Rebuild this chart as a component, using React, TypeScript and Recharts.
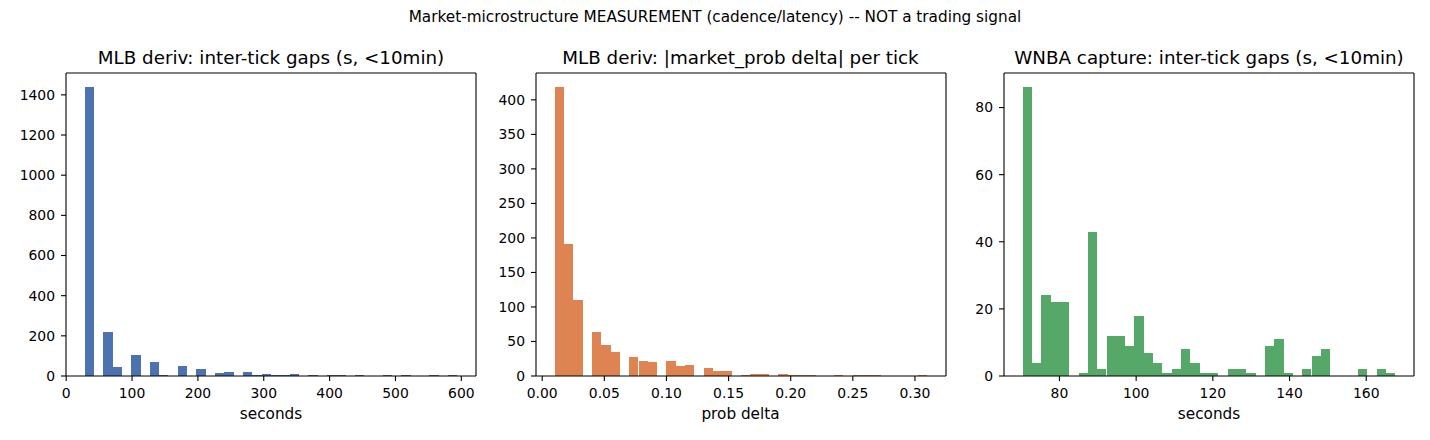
import React from 'react';
import { BarChart, Bar, XAxis, YAxis } from 'recharts';

const FONT = '"DejaVu Sans", "Liberation Sans", sans-serif';

// ---- data (histogram counts, 40 bins each) ----
const mlbGapBinStart = 28;
const mlbGapBinWidth = 14.15;
const mlbGapCounts = [
  1437, 0, 218, 45, 0, 104, 0, 70, 4, 0,
  50, 0, 35, 0, 14, 20, 0, 20, 4, 10,
  4, 4, 8, 0, 4, 0, 3, 3, 0, 3,
  0, 0, 3, 0, 3, 0, 0, 3, 0, 3,
];
const mlbGapXTicks = [0, 100, 200, 300, 400, 500, 600];
const mlbGapYTicks = [0, 200, 400, 600, 800, 1000, 1200, 1400];

const mlbDeltaBinStart = 0.01;
const mlbDeltaBinWidth = 0.0075;
const mlbDeltaCounts = [
  418, 191, 110, 0, 64, 45, 35, 0, 27, 22,
  20, 0, 22, 14, 16, 0, 12, 7, 7, 0,
  1, 3, 3, 0, 3, 1, 1, 1, 0, 0,
  1, 0, 1, 1, 1, 0, 0, 0, 0, 1,
];
const mlbDeltaXTicks = [0, 0.05, 0.1, 0.15, 0.2, 0.25, 0.3];
const mlbDeltaYTicks = [0, 50, 100, 150, 200, 250, 300, 350, 400];

const wnbaGapBinStart = 70.4;
const wnbaGapBinWidth = 2.43;
const wnbaGapCounts = [
  86, 4, 24, 22, 22, 0, 1, 43, 2, 12,
  12, 9, 18, 7, 4, 1, 2, 8, 4, 1,
  1, 0, 2, 2, 1, 0, 9, 11, 1, 0,
  2, 6, 8, 0, 0, 0, 2, 0, 2, 1,
];
const wnbaGapXTicks = [80, 100, 120, 140, 160];
const wnbaGapYTicks = [0, 20, 40, 60, 80];

const SUPTITLE = 'Market-microstructure MEASUREMENT (cadence/latency) -- NOT a trading signal';
const panelTitles = [
  'MLB deriv: inter-tick gaps (s, <10min)',
  'MLB deriv: |market_prob delta| per tick',
  'WNBA capture: inter-tick gaps (s, <10min)',
];
const panelXLabels = ['seconds', 'prob delta', 'seconds'];

// ---- layout ----
const PLOT_TOP = 73;
const PLOT_BOTTOM = 376;
const PLOT_W = 410;
const Y_AXIS_W = 60;
const X_AXIS_H = 30;
const CHART_H = 440;
const PAD_LEFT = 6;
const PAD_RIGHT = 14;
const FRAME_W = 1;
const plotLefts = [66, 535.5, 1004];

const tickStyle = { fill: '#000', fontSize: 13.9, fontFamily: FONT };
const axisLineStyle = { stroke: '#000', strokeWidth: 1.1 };
const tickLineStyle = { stroke: '#000', strokeWidth: 1.1 };

type PanelProps = {
  plotLeft: number;
  counts: number[];
  binStart: number;
  binWidth: number;
  color: string;
  xTicks: number[];
  yTicks: number[];
  fmt?: (v: number) => string;
};

function HistPanel({ plotLeft, counts, binStart, binWidth, color, xTicks, yTicks, fmt }: PanelProps) {
  const hi = binStart + counts.length * binWidth;
  const span = hi - binStart;
  const xMin = binStart - 0.05 * span;
  const xMax = hi + 0.05 * span;
  const yMax = Math.max(...counts) * 1.05;
  const data = counts.map((c, i) => ({ x: binStart + (i + 0.5) * binWidth, count: c }));
  const barSize = (PLOT_W * binWidth) / (xMax - xMin) - 0.01;
  const chartW = PAD_LEFT + Y_AXIS_W + PLOT_W + PAD_RIGHT;
  return (
    <div style={{ position: 'absolute', left: plotLeft - PAD_LEFT - Y_AXIS_W, top: 0 }}>
      <BarChart
        width={chartW}
        height={CHART_H}
        data={data}
        margin={{
          top: PLOT_TOP - FRAME_W,
          right: PAD_RIGHT - FRAME_W,
          bottom: CHART_H - PLOT_BOTTOM - X_AXIS_H,
          left: PAD_LEFT,
        }}
        barCategoryGap={0}
        barGap={0}
      >
        <XAxis
          xAxisId="b"
          dataKey="x"
          type="number"
          domain={[xMin, xMax]}
          allowDataOverflow
          ticks={xTicks}
          interval={0}
          tickFormatter={fmt}
          height={X_AXIS_H}
          tickSize={5}
          tickMargin={7}
          axisLine={axisLineStyle}
          tickLine={tickLineStyle}
          tick={tickStyle}
        />
        <XAxis
          xAxisId="t"
          orientation="top"
          dataKey="x"
          type="number"
          domain={[xMin, xMax]}
          allowDataOverflow
          height={FRAME_W}
          tick={false}
          tickLine={false}
          axisLine={axisLineStyle}
        />
        <YAxis
          yAxisId="l"
          type="number"
          domain={[0, yMax]}
          allowDataOverflow
          ticks={yTicks}
          interval={0}
          width={Y_AXIS_W}
          tickSize={5}
          tickMargin={6}
          axisLine={axisLineStyle}
          tickLine={tickLineStyle}
          tick={tickStyle}
        />
        <YAxis
          yAxisId="r"
          orientation="right"
          type="number"
          domain={[0, yMax]}
          allowDataOverflow
          width={FRAME_W}
          tick={false}
          tickLine={false}
          axisLine={axisLineStyle}
        />
        <Bar
          xAxisId="b"
          yAxisId="l"
          dataKey="count"
          fill={color}
          barSize={barSize}
          shapeRendering="crispEdges"
          isAnimationActive={false}
        />
      </BarChart>
    </div>
  );
}

export default function App() {
  const panels = [
    {
      counts: mlbGapCounts, binStart: mlbGapBinStart, binWidth: mlbGapBinWidth, color: '#4c72b0',
      xTicks: mlbGapXTicks, yTicks: mlbGapYTicks, fmt: (v: number) => String(v),
    },
    {
      counts: mlbDeltaCounts, binStart: mlbDeltaBinStart, binWidth: mlbDeltaBinWidth, color: '#dd8452',
      xTicks: mlbDeltaXTicks, yTicks: mlbDeltaYTicks, fmt: (v: number) => v.toFixed(2),
    },
    {
      counts: wnbaGapCounts, binStart: wnbaGapBinStart, binWidth: wnbaGapBinWidth, color: '#55a868',
      xTicks: wnbaGapXTicks, yTicks: wnbaGapYTicks, fmt: (v: number) => String(v),
    },
  ];
  return (
    <div
      style={{
        position: 'absolute', left: 0, top: 0, width: 1430, height: 440,
        background: '#fff', overflow: 'hidden', fontFamily: FONT,
      }}
    >
      {panels.map((p, i) => (
        <HistPanel key={i} plotLeft={plotLefts[i]} {...p} />
      ))}
      <svg
        width={1430}
        height={440}
        style={{ position: 'absolute', left: 0, top: 0, pointerEvents: 'none' }}
      >
        <text x={715} y={21.5} textAnchor="middle" fontFamily={FONT} fontSize={15.28} fill="#000">
          {SUPTITLE}
        </text>
        {panelTitles.map((t, i) => (
          <text
            key={'t' + i}
            x={plotLefts[i] + PLOT_W / 2}
            y={64.3}
            textAnchor="middle"
            fontFamily={FONT}
            fontSize={18.3}
            fill="#000"
          >
            {t}
          </text>
        ))}
        {panelXLabels.map((t, i) => (
          <text
            key={'x' + i}
            x={plotLefts[i] + PLOT_W / 2}
            y={419.3}
            textAnchor="middle"
            fontFamily={FONT}
            fontSize={15.28}
            fill="#000"
          >
            {t}
          </text>
        ))}
      </svg>
    </div>
  );
}
